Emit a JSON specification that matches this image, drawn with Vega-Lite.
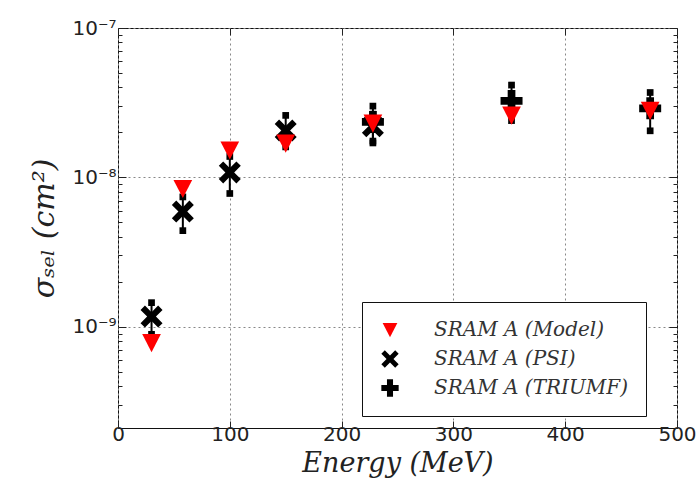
{
  "$schema": "https://vega.github.io/schema/vega-lite/v6.json",
  "width": 559,
  "height": 400,
  "autosize": {"type": "none"},
  "padding": {"left": 118, "top": 28, "right": 22, "bottom": 68},
  "background": "white",
  "data": {
    "values": [
      {"series": "SRAM A (PSI)", "energy": 30, "sigma": 1.17e-9, "lo": 0.89e-9, "hi": 1.45e-9},
      {"series": "SRAM A (PSI)", "energy": 58, "sigma": 5.9e-9, "lo": 4.4e-9, "hi": 7.4e-9},
      {"series": "SRAM A (PSI)", "energy": 100, "sigma": 1.08e-8, "lo": 7.8e-9, "hi": 1.38e-8},
      {"series": "SRAM A (PSI)", "energy": 150, "sigma": 2.06e-8, "lo": 1.6e-8, "hi": 2.6e-8},
      {"series": "SRAM A (PSI)", "energy": 228, "sigma": 2.2e-8, "lo": 1.75e-8, "hi": 2.65e-8},
      {"series": "SRAM A (TRIUMF)", "energy": 228, "sigma": 2.35e-8, "lo": 1.7e-8, "hi": 3.0e-8},
      {"series": "SRAM A (TRIUMF)", "energy": 352, "sigma": 3.25e-8, "lo": 2.4e-8, "hi": 4.15e-8},
      {"series": "SRAM A (TRIUMF)", "energy": 476, "sigma": 2.9e-8, "lo": 2.05e-8, "hi": 3.7e-8},
      {"series": "SRAM A (Model)", "energy": 30, "sigma": 7.8e-10},
      {"series": "SRAM A (Model)", "energy": 58, "sigma": 8.4e-9},
      {"series": "SRAM A (Model)", "energy": 100, "sigma": 1.52e-8},
      {"series": "SRAM A (Model)", "energy": 150, "sigma": 1.69e-8},
      {"series": "SRAM A (Model)", "energy": 228, "sigma": 2.3e-8},
      {"series": "SRAM A (Model)", "energy": 352, "sigma": 2.6e-8},
      {"series": "SRAM A (Model)", "energy": 476, "sigma": 2.8e-8}
    ]
  },
  "config": {
    "view": {"stroke": "#111", "strokeWidth": 1},
    "axis": {
      "domain": false,
      "tickColor": "#222",
      "labelFont": "DejaVu Sans",
      "labelFontSize": 20,
      "labelColor": "#222",
      "titleFontWeight": "normal",
      "titleColor": "#222",
      "gridColor": "#888",
      "gridDash": [2, 3],
      "gridWidth": 1
    }
  },
  "layer": [
    {
      "encoding": {
        "x": {
          "field": "energy",
          "type": "quantitative",
          "scale": {"domain": [0, 500], "nice": false, "zero": false},
          "axis": {
            "orient": "bottom",
            "values": [0, 100, 200, 300, 400, 500],
            "tickSize": -7,
            "labelPadding": 3,
            "labelFlush": false,
            "grid": true,
            "title": "Energy (MeV)",
            "titleFont": "DejaVu Serif",
            "titleFontStyle": "italic",
            "titleFontSize": 27,
            "titlePadding": 6
          }
        },
        "y": {
          "field": "sigma",
          "type": "quantitative",
          "scale": {"type": "log", "domain": [2.1e-10, 1e-7], "nice": false},
          "axis": {
            "orient": "left",
            "values": [1e-9, 1e-8, 1e-7],
            "labelExpr": "datum.value > 5e-8 ? '10⁻⁷' : datum.value > 5e-9 ? '10⁻⁸' : '10⁻⁹'",
            "tickSize": -8,
            "labelPadding": 10,
            "labelFlush": false,
            "grid": true,
            "title": "σₛₑₗ (cm²)",
            "titleFont": "DejaVu Serif",
            "titleFontStyle": "italic",
            "titleFontSize": 30,
            "titlePadding": 12
          }
        }
      },
      "layer": [
        {
          "transform": [{"filter": "datum.series !== 'SRAM A (Model)'"}],
          "mark": {"type": "rule", "color": "#000", "strokeWidth": 2},
          "encoding": {"y": {"field": "lo"}, "y2": {"field": "hi"}}
        },
        {
          "transform": [{"filter": "datum.series !== 'SRAM A (Model)'"}],
          "mark": {"type": "point", "shape": "square", "filled": true, "color": "#000", "size": 45, "opacity": 1},
          "encoding": {"y": {"field": "lo"}}
        },
        {
          "transform": [{"filter": "datum.series !== 'SRAM A (Model)'"}],
          "mark": {"type": "point", "shape": "square", "filled": true, "color": "#000", "size": 45, "opacity": 1},
          "encoding": {"y": {"field": "hi"}}
        },
        {
          "mark": {"type": "point", "filled": true, "size": 484, "opacity": 1, "strokeWidth": 0},
          "encoding": {
            "shape": {
              "field": "series",
              "type": "nominal",
              "scale": {
                "domain": ["SRAM A (Model)", "SRAM A (PSI)", "SRAM A (TRIUMF)"],
                "range": [
                  "M-0.85,-0.8L0.85,-0.8L0,0.85Z",
                  "M-1,-0.6L-0.6,-1L0,-0.4L0.6,-1L1,-0.6L0.4,0L1,0.6L0.6,1L0,0.4L-0.6,1L-1,0.6L-0.4,0Z",
                  "M-0.35,-1H0.35V-0.35H1V0.35H0.35V1H-0.35V0.35H-1V-0.35H-0.35Z"
                ]
              },
              "legend": {
                "title": null,
                "orient": "none",
                "legendX": 244,
                "legendY": 274,
                "direction": "vertical",
                "strokeColor": "#111",
                "fillColor": "white",
                "padding": 18,
                "rowPadding": 9,
                "symbolSize": 300,
                "symbolStrokeWidth": 0,
                "symbolOpacity": 1,
                "labelFont": "DejaVu Serif",
                "labelFontStyle": "italic",
                "labelFontSize": 20,
                "labelColor": "#333",
                "labelOffset": 34,
                "labelLimit": 400
              }
            },
            "color": {
              "field": "series",
              "type": "nominal",
              "scale": {
                "domain": ["SRAM A (Model)", "SRAM A (PSI)", "SRAM A (TRIUMF)"],
                "range": ["#ff0000", "#000000", "#000000"]
              },
              "legend": {
                "title": null,
                "orient": "none",
                "legendX": 244,
                "legendY": 274
              }
            }
          }
        }
      ]
    },
    {
      "mark": {"type": "point", "opacity": 0},
      "encoding": {
        "x": {
          "field": "energy",
          "type": "quantitative",
          "scale": {"domain": [0, 500], "nice": false, "zero": false},
          "axis": {"orient": "top", "values": [0, 100, 200, 300, 400, 500], "tickSize": -7, "labels": false, "grid": false, "title": null}
        },
        "y": {
          "field": "sigma",
          "type": "quantitative",
          "scale": {"type": "log", "domain": [2.1e-10, 1e-7], "nice": false},
          "axis": {
            "orient": "left",
            "values": [3e-10, 4e-10, 5e-10, 6e-10, 7e-10, 8e-10, 9e-10, 2e-9, 3e-9, 4e-9, 5e-9, 6e-9, 7e-9, 8e-9, 9e-9, 2e-8, 3e-8, 4e-8, 5e-8, 6e-8, 7e-8, 8e-8, 9e-8],
            "tickSize": -4, "labels": false, "grid": false, "title": null
          }
        }
      }
    },
    {
      "mark": {"type": "point", "opacity": 0},
      "encoding": {
        "x": {
          "field": "energy",
          "type": "quantitative",
          "scale": {"domain": [0, 500], "nice": false, "zero": false},
          "axis": null
        },
        "y": {
          "field": "sigma",
          "type": "quantitative",
          "scale": {"type": "log", "domain": [2.1e-10, 1e-7], "nice": false},
          "axis": {"orient": "right", "values": [1e-9, 1e-8, 1e-7], "tickSize": -8, "labels": false, "grid": false, "title": null}
        }
      }
    },
    {
      "mark": {"type": "point", "opacity": 0},
      "encoding": {
        "x": {
          "field": "energy",
          "type": "quantitative",
          "scale": {"domain": [0, 500], "nice": false, "zero": false},
          "axis": null
        },
        "y": {
          "field": "sigma",
          "type": "quantitative",
          "scale": {"type": "log", "domain": [2.1e-10, 1e-7], "nice": false},
          "axis": {
            "orient": "right",
            "values": [3e-10, 4e-10, 5e-10, 6e-10, 7e-10, 8e-10, 9e-10, 2e-9, 3e-9, 4e-9, 5e-9, 6e-9, 7e-9, 8e-9, 9e-9, 2e-8, 3e-8, 4e-8, 5e-8, 6e-8, 7e-8, 8e-8, 9e-8],
            "tickSize": -4, "labels": false, "grid": false, "title": null
          }
        }
      }
    }
  ],
  "resolve": {"scale": {"x": "independent", "y": "independent"}}
}
